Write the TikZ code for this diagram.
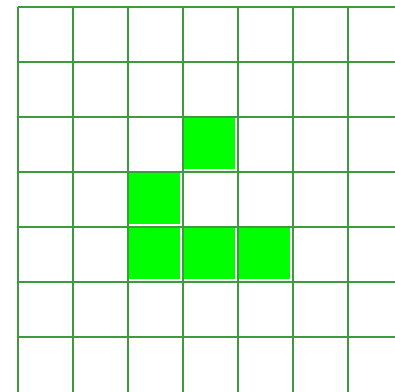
\documentclass[tikz,border=0pt]{standalone}
\usepackage{tikz}

\definecolor{gridgreen}{RGB}{60,155,60}
\definecolor{alivegreen}{RGB}{0,255,0}

\begin{document}
\begin{tikzpicture}[
  x=1pt, y=-1pt,
  gridline/.style={draw=gridgreen, line width=2pt},
  alive/.style={fill=alivegreen}
]
  \useasboundingbox (0,0) rectangle (395,391);

  % live cells (column, row)
  \foreach \c/\r in {3/2, 2/3, 2/4, 3/4, 4/4}
    \fill[alive] ({18+55*\c},{7+55*\r}) rectangle ++(52,52);

  % grid
  \foreach \i in {0,...,6}
    \draw[gridline] ({18+55*\i},7) -- ({18+55*\i},395);
  \foreach \j in {0,...,6}
    \draw[gridline] (18,{7+55*\j}) -- (399,{7+55*\j});
\end{tikzpicture}
\end{document}
